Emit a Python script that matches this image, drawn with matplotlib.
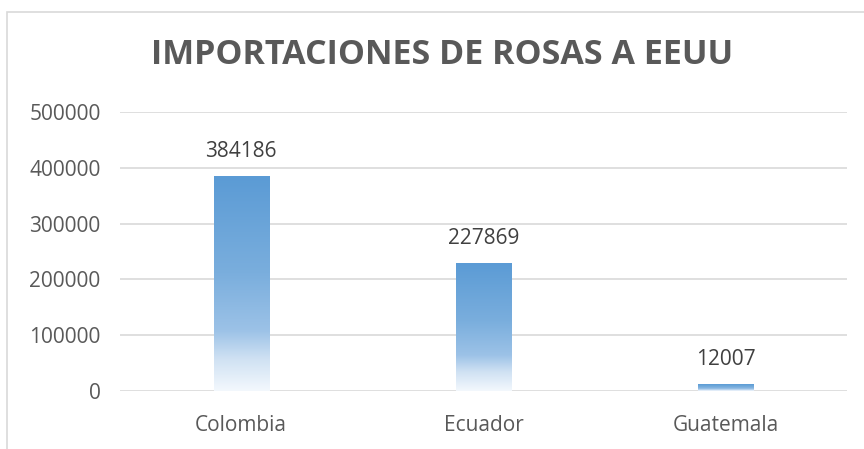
import matplotlib.pyplot as plt
import numpy as np
from matplotlib.colors import LinearSegmentedColormap
from matplotlib.patches import Rectangle

paises = ['Colombia', 'Ecuador', 'Guatemala']
importaciones = [384186, 227869, 12007]
yticks = [0, 100000, 200000, 300000, 400000, 500000]

plt.rcParams['font.family'] = ['Open Sans', 'DejaVu Sans']

fig = plt.figure(figsize=(8.64, 4.49), dpi=100)
fig.patches.append(Rectangle((7 / 864, -0.1), 1.2, 1 - 12 / 449 + 0.1,
                             transform=fig.transFigure, fill=False,
                             edgecolor='#D9D9D9', linewidth=1.2))
ax = fig.add_axes([120 / 864, 1 - 391 / 449, 727 / 864, (391 - 112) / 449])

# degradado de arriba (azul) a abajo (casi blanco)
cmap = LinearSegmentedColormap.from_list('rosa', [
    (0.0, '#5B9BD5'), (0.45, '#7AAEDD'), (0.72, '#9CC2E7'),
    (0.85, '#CFE1F3'), (1.0, '#F3F8FD')])
grad = np.linspace(0, 1, 256).reshape(-1, 1)

ancho = 0.227
x = np.arange(len(paises))
bars = ax.bar(x, importaciones, width=ancho, color='none', zorder=3)
for b, v in zip(bars, importaciones):
    x0 = b.get_x()
    ax.imshow(grad, cmap=cmap, extent=[x0, x0 + ancho, 0, v],
              aspect='auto', zorder=3, origin='upper')
    ax.annotate(str(v), (x0 + ancho / 2, v), xytext=(0, 18),
                textcoords='offset points', ha='center', va='center',
                fontsize=15, color='#404040')

ax.set_xlim(-0.5, 2.5)
ax.set_ylim(0, 500000)
ax.set_yticks(yticks)
ax.set_yticklabels([str(t) for t in yticks], fontsize=15, color='#595959')
ax.set_xticks(x)
ax.set_xticklabels(paises, fontsize=15, color='#595959')
ax.tick_params(length=0)
ax.tick_params(axis='x', pad=17)
ax.tick_params(axis='y', pad=14)
ax.grid(axis='y', color='#D9D9D9', linewidth=1.2, zorder=0)
for s in ax.spines.values():
    s.set_visible(False)

fig.text(0.512, 1 - 55 / 449, 'IMPORTACIONES DE ROSAS A EEUU', ha='center',
         va='center', fontsize=24.5, fontweight='bold', color='#595959')

fig.savefig('out.png', dpi=100)
